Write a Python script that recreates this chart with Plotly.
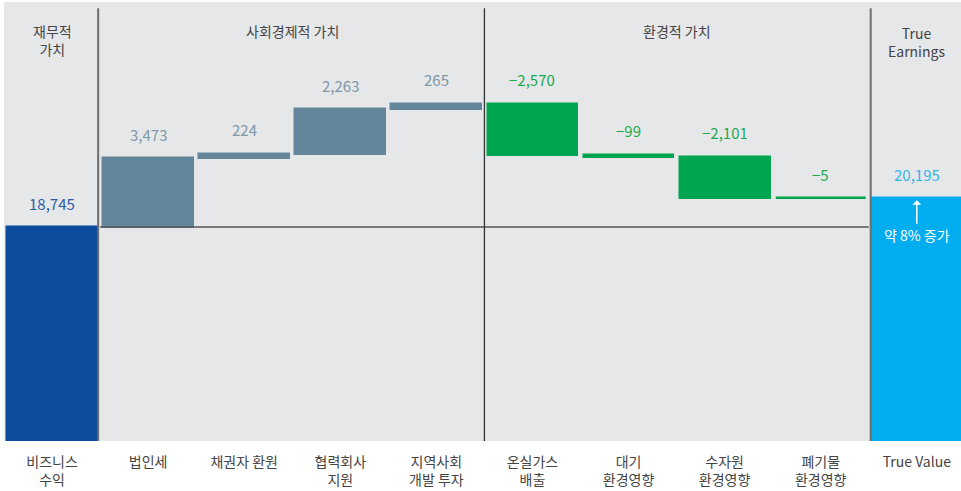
import plotly.graph_objects as go

categories = ["비즈니스<br>수익", "법인세", "채권자 환원", "협력회사<br>지원", "지역사회<br>개발 투자",
              "온실가스<br>배출", "대기<br>환경영향", "수자원<br>환경영향", "폐기물<br>환경영향", "True Value"]
values = [18745, 3473, 224, 2263, 265, -2570, -99, -2101, -5, 20195]
kinds = ["total", "delta", "delta", "delta", "delta", "delta", "delta", "delta", "delta", "total"]
groups = ["재무적<br>가치", "사회경제적 가치", "환경적 가치", "True<br>Earnings"]
note_text = "약 8% 증가"

FONT = "Noto Sans CJK KR"
C_FIN = "#0d4c9c"
C_SOC = "#64869a"
C_ENV = "#00a54f"
C_TRUE = "#00aeef"
T_FIN = "#2a5caa"
T_SOC = "#7f97a6"
T_ENV = "#1aab50"
T_TRUE = "#33b5e8"

bases, heights, colors, tcolors, tops = [], [], [], [], []
cum = 0
for i, (v, k) in enumerate(zip(values, kinds)):
    if k == "total":
        bases.append(0)
        heights.append(v)
        cum = v
        tops.append(v)
    else:
        bases.append(cum)
        heights.append(v)
        tops.append(max(cum, cum + v))
        cum += v
    if i == 0:
        colors.append(C_FIN); tcolors.append(T_FIN)
    elif i == len(values) - 1:
        colors.append(C_TRUE); tcolors.append(T_TRUE)
    elif v >= 0:
        colors.append(C_SOC); tcolors.append(T_SOC)
    else:
        colors.append(C_ENV); tcolors.append(T_ENV)

xs = list(range(len(categories)))

fig = go.Figure()
fig.add_trace(go.Bar(x=xs, y=heights, base=bases,
                     marker=dict(color=colors, line=dict(width=2.5, color=colors)),
                     width=0.935, hoverinfo="skip"))

def fmt(v):
    s = f"{abs(v):,}"
    return ("−" + s) if v < 0 else s

for i, v in enumerate(values):
    fig.add_annotation(x=i, y=tops[i], text=fmt(v), showarrow=False, yanchor="middle",
                       yshift=24, font=dict(family=FONT, size=15, color=tcolors[i]))

# baseline
fig.add_shape(type="line", xref="x", yref="y", x0=0.5, x1=8.5, y0=values[0], y1=values[0],
              line=dict(color="#555555", width=1.5), layer="above")
# separators
for xv, col, w in [(0.48, "#6e6e6e", 2), (4.5, "#333333", 1.3), (8.52, "#6e6e6e", 2)]:
    fig.add_shape(type="line", xref="x", yref="paper", x0=xv, x1=xv, y0=0, y1=0.986,
                  line=dict(color=col, width=w), layer="above")

# group headers
for gx, gy, gt in [(0, 0.914, groups[0]), (2.5, 0.934, groups[1]), (6.5, 0.934, groups[2]), (9, 0.91, groups[3])]:
    fig.add_annotation(x=gx, y=gy, xref="x", yref="paper", text=gt, showarrow=False,
                       yanchor="middle", font=dict(family=FONT, size=14, color="#444444"))

# arrow + note in True Value bar
fig.add_annotation(x=9, y=values[-1], text=note_text, showarrow=True, ax=0, ay=37,
                   arrowcolor="white", arrowhead=1, arrowwidth=1.5, arrowsize=1, standoff=2,
                   font=dict(family=FONT, size=14, color="white"))

fig.update_layout(
    width=961, height=491,
    margin=dict(l=4, r=0, t=2, b=50),
    paper_bgcolor="white", plot_bgcolor="#e6e7e9",
    showlegend=False, bargap=0,
    font=dict(family=FONT, size=14, color="#444444"),
)
fig.update_xaxes(range=[-0.5, 9.46], tickvals=xs, ticktext=categories, showgrid=False,
                 zeroline=False, ticks="outside", ticklen=8, tickcolor="rgba(0,0,0,0)",
                 tickfont=dict(family=FONT, size=14, color="#444444"), fixedrange=True)
fig.update_yaxes(range=[7937, 30109], visible=False, showgrid=False, zeroline=False, fixedrange=True)

fig.write_html("out.html")
